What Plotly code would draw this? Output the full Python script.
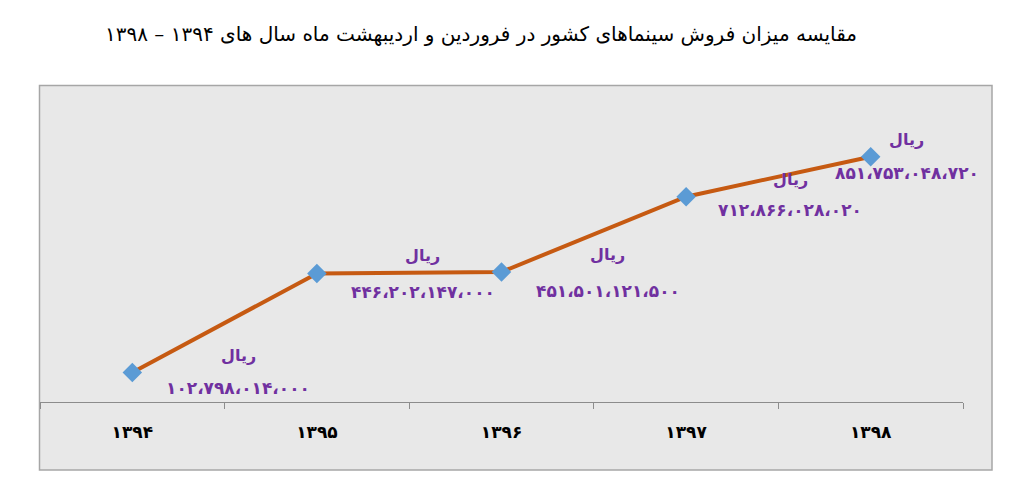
import plotly.graph_objects as go

# ---- data ----
years = ["۱۳۹۴", "۱۳۹۵", "۱۳۹۶", "۱۳۹۷", "۱۳۹۸"]
sales = [102798014000, 446202147000, 451501121500, 712866028020, 851753048720]
value_labels = ["۱۰۲،۷۹۸،۰۱۴،۰۰۰", "۴۴۶،۲۰۲،۱۴۷،۰۰۰", "۴۵۱،۵۰۱،۱۲۱،۵۰۰",
                "۷۱۲،۸۶۶،۰۲۸،۰۲۰", "۸۵۱،۷۵۳،۰۴۸،۷۲۰"]
unit = "ریال"
title = "مقایسه میزان فروش سینماهای کشور در فروردین و اردیبهشت ماه سال های ۱۳۹۴ – ۱۳۹۸"

# label offsets (pixels) per point
label_xshift = [106, 106, 106, 104, 36]
num_yshift = [-16, -19, -19, -13, -16]
unit_yshift = [17, 18, 17, 17, 17]

W, H = 1024, 500
L, R, T, B = 40, 61, 113.5, 98
pw, ph = W - L - R, H - T - B

def px2paper_x(px):
    return (px - L) / pw

def py2paper_y(py):
    return (H - B - py) / ph

fig = go.Figure()
fig.add_trace(go.Scatter(
    x=years, y=sales, mode="lines+markers",
    line=dict(color="#C65A12", width=4),
    marker=dict(symbol="diamond", size=15, color="#5B9BD5",
                line=dict(width=0)),
    hoverinfo="skip", showlegend=False,
))

annotations = []
purple = "#7030A0"
for i, (yr, v) in enumerate(zip(years, sales)):
    annotations.append(dict(x=yr, y=v, xref="x", yref="y", text=value_labels[i],
                            showarrow=False, xshift=label_xshift[i], yshift=num_yshift[i],
                            font=dict(family="DejaVu Sans", size=17, color=purple, weight="bold")))
    annotations.append(dict(x=yr, y=v, xref="x", yref="y", text=unit,
                            showarrow=False, xshift=label_xshift[i], yshift=unit_yshift[i],
                            font=dict(family="DejaVu Sans", size=16, color=purple, weight="bold")))

fig.update_layout(
    width=W, height=H,
    margin=dict(l=L, r=R, t=T, b=B),
    paper_bgcolor="white",
    plot_bgcolor="rgba(0,0,0,0)",
    title=dict(text=title, xref="container", yref="container",
               x=481 / W, y=1 - 34 / H, xanchor="center", yanchor="middle",
               font=dict(family="DejaVu Sans", size=20, color="black")),
    shapes=[dict(type="rect", xref="paper", yref="paper",
                 x0=px2paper_x(39.5), x1=px2paper_x(992), y0=py2paper_y(470), y1=py2paper_y(85),
                 fillcolor="#E8E8E8", line=dict(color="#A6A6A6", width=1.5), layer="below")],
    annotations=annotations,
    xaxis=dict(type="category", range=[-0.5, len(years) - 0.5], showgrid=False, zeroline=False,
               showline=True, linecolor="#8C8C8C", linewidth=1.2,
               ticks="outside", tickson="boundaries", ticklen=6, tickcolor="#8C8C8C",
               tickfont=dict(family="DejaVu Sans", size=17, color="black", weight="bold"),
               ticklabelstandoff=14, fixedrange=True),
    yaxis=dict(range=[0, 1000e9], visible=False, showgrid=False, fixedrange=True),
)

fig.write_html("out.html", config={"displayModeBar": False},
               post_script="document.body.style.margin='0';")
